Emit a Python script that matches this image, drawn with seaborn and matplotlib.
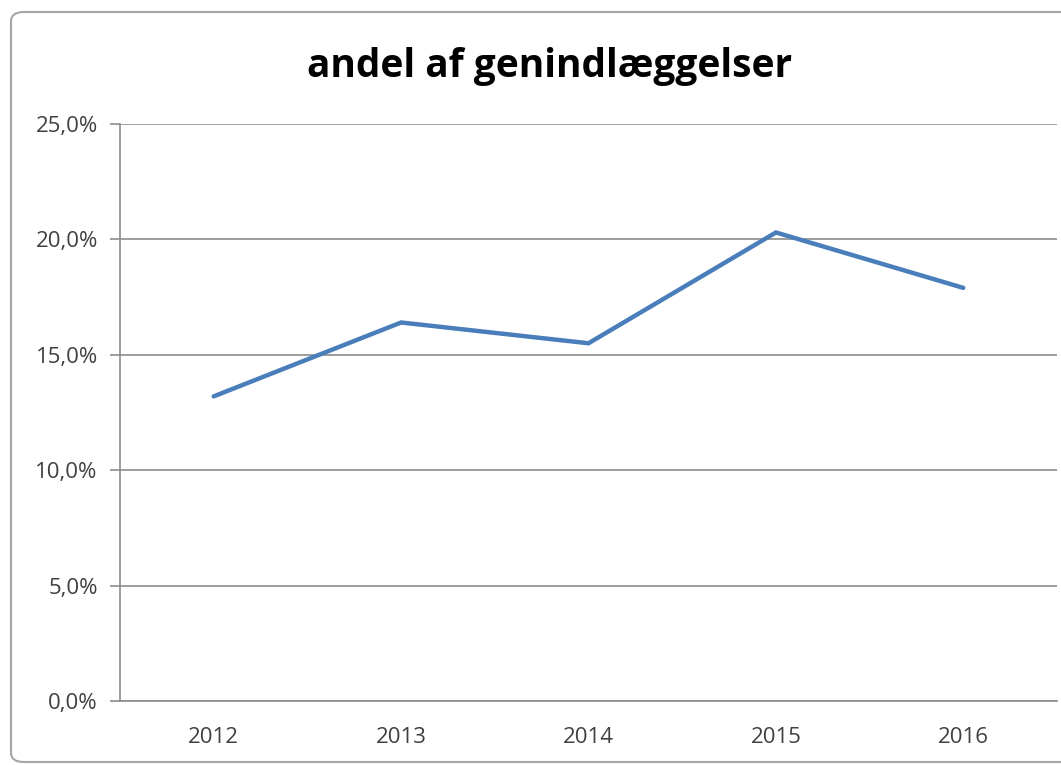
"""
plot.py
Andel af genindlæggelser 2012-2016, Excel-style line chart.
"""

import matplotlib
matplotlib.use("Agg")
import matplotlib.pyplot as plt
import matplotlib.ticker as mticker
from matplotlib.patches import FancyBboxPatch
import pandas as pd
import seaborn as sns

# ---------------------------------------------------------
# Data
# ---------------------------------------------------------
years = ["2012", "2013", "2014", "2015", "2016"]
share = [13.2, 16.4, 15.5, 20.3, 17.9]   # percent
y_ticks = [0, 5, 10, 15, 20, 25]
title = "andel af genindlæggelser"

LINE_BLUE = "#4A7EBB"
GRID_GRAY = "#8C8C8C"
TEXT_GRAY = "#404040"

# ---------------------------------------------------------
# Plot
# ---------------------------------------------------------
sns.set_style("white")
plt.rcParams["font.family"] = ["Open Sans", "DejaVu Sans"]

df = pd.DataFrame({"year": years, "share": share})

fig = plt.figure(figsize=(10.61, 7.65), dpi=100)
ax = fig.add_axes([120 / 1061, 64 / 765, 937 / 1061, 577 / 765])

sns.lineplot(data=df, x="year", y="share", ax=ax, color=LINE_BLUE,
             linewidth=3.2, sort=False, solid_joinstyle="miter")

ax.set_xlim(-0.5, len(years) - 0.5)
ax.set_ylim(y_ticks[0], y_ticks[-1])
ax.set_yticks(y_ticks)
ax.yaxis.set_major_formatter(
    mticker.FuncFormatter(lambda v, _: f"{v:.1f}%".replace(".", ",")))
ax.grid(axis="y", color=GRID_GRAY, linewidth=1.2)
ax.set_axisbelow(True)

# category boundary tick marks on the x axis
ax.set_xticks([i - 0.5 for i in range(len(years) + 1)], minor=True)
ax.tick_params(axis="x", which="major", length=0, pad=19,
               labelsize=16, labelcolor=TEXT_GRAY)
ax.tick_params(axis="x", which="minor", length=7, width=1.2,
               color=GRID_GRAY, direction="out")
ax.tick_params(axis="y", length=7, width=1.2, color=GRID_GRAY,
               labelsize=16, labelcolor=TEXT_GRAY, pad=9, left=True)

for side in ["top", "right"]:
    ax.spines[side].set_visible(False)
for side in ["left", "bottom"]:
    ax.spines[side].set_color(GRID_GRAY)
    ax.spines[side].set_linewidth(1.2)

ax.set_xlabel("")
ax.set_ylabel("")

fig.text(550 / 1061, 1 - 66 / 765, title, ha="center", va="center",
         fontsize=28, fontweight="bold", color="black")

# chart-area frame with rounded corners
frame = FancyBboxPatch((11 / 1061, 3 / 765), 1.05, 750 / 765,
                       boxstyle="round,pad=0,rounding_size=0.012",
                       transform=fig.transFigure, facecolor="none",
                       edgecolor="#A6A6A6", linewidth=1.5, zorder=-1)
fig.patches.append(frame)

fig.savefig("out.png", dpi=100)
plt.close(fig)
